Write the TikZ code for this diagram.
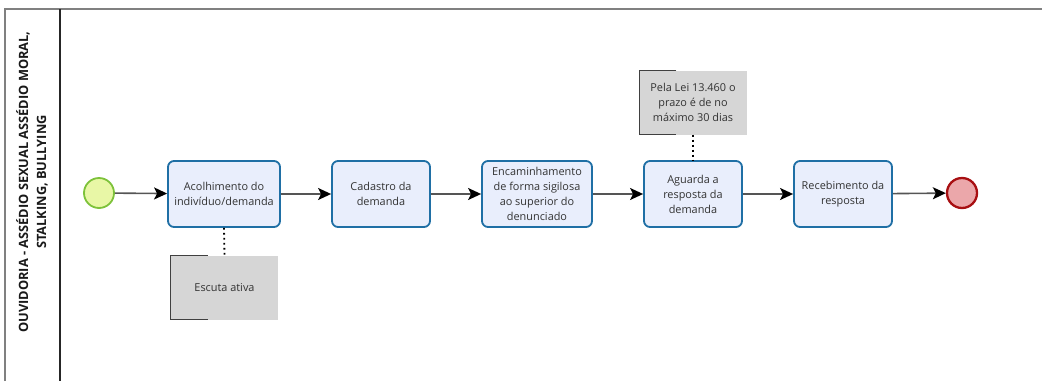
\documentclass[tikz,border=0pt]{standalone}
\usepackage{fontspec}
\setmainfont{Open Sans}
\usetikzlibrary{arrows.meta}
\definecolor{taskfill}{HTML}{E9EEFC}
\definecolor{taskdraw}{HTML}{1F6FA5}
\definecolor{startfill}{HTML}{E8F7A6}
\definecolor{startdraw}{HTML}{7DC23A}
\definecolor{endfill}{HTML}{EBA7AA}
\definecolor{enddraw}{HTML}{A80F12}
\definecolor{annfill}{HTML}{D6D6D6}
\definecolor{flowgray}{HTML}{555555}
\definecolor{txt}{HTML}{333333}
\tikzset{
  taskbox/.style={draw=taskdraw, fill=taskfill, line width=1.8pt, rounded corners=6pt,
    minimum width=#1, minimum height=66pt, inner sep=0pt, align=center,
    font=\fontsize{10.9}{15}\selectfont, text=txt},
  taskbox/.default=100pt,
  startev/.style={circle, draw=startdraw, fill=startfill, line width=1.8pt, minimum size=30pt, inner sep=0pt},
  endev/.style={circle, draw=enddraw, fill=endfill, line width=2.3pt, minimum size=30pt, inner sep=0pt},
  annbox/.style={fill=annfill, minimum width=107pt, minimum height=64pt, inner sep=0pt, align=center,
    font=\fontsize{10.9}{15}\selectfont, text=txt},
  flow/.style={draw=flowgray, line width=1.6pt, -{Stealth[length=13pt,width=12pt,inset=3pt,fill=black,black]}},
  assoc/.style={draw=black, line width=1.8pt, dash pattern=on 1.8pt off 3.2pt},
  bracket/.style={draw=black!75, line width=1.2pt},
}
\begin{document}
\begin{tikzpicture}[x=1pt,y=-1pt]
\useasboundingbox (0,0) rectangle (1042,381);
% pool / lane
\draw[gray, line width=1.3pt] (5,381) -- (5,9) -- (1042,9);
\draw[black!85, line width=1.3pt] (60,9) -- (60,381);
\node[rotate=90, align=center, font=\bfseries\fontsize{12.8}{18}\selectfont, text=black!90] (lanelabel) at (32,182)
  {OUVIDORIA - ASSÉDIO SEXUAL ASSÉDIO MORAL,\\STALKING, BULLYING};
% events and tasks
\node[startev] (start) at (99,193) {};
\node[taskbox=112pt] (t1) at (224,194) {Acolhimento do\\indivíduo/demanda};
\node[taskbox=98pt] (t2) at (381,194) {Cadastro da\\demanda};
\node[taskbox=110pt] (t3) at (537,194) {Encaminhamento\\de forma sigilosa\\ao superior do\\denunciado};
\node[taskbox=98pt] (t4) at (693,194) {Aguarda a\\resposta da\\demanda};
\node[taskbox=98pt] (t5) at (843,194) {Recebimento da\\resposta};
\node[endev] (end) at (962,193) {};
% annotations
\node[annbox] (a1) at (224.5,287.5) {Escuta ativa};
\node[annbox] (a2) at (693,102.5) {Pela Lei 13.460 o\\prazo é de no\\máximo 30 dias};
\draw[bracket] ([xshift=37pt]a1.north west) -- (a1.north west) -- (a1.south west) -- ([xshift=37pt]a1.south west);
\draw[bracket] ([xshift=37pt]a2.north west) -- (a2.north west) -- (a2.south west) -- ([xshift=37pt]a2.south west);
% flows
\draw[flow] (start) -- (t1);
\draw[flow] (t1) -- (t2);
\draw[flow] (t2) -- (t3);
\draw[flow] (t3) -- (t4);
\draw[flow] (t4) -- (t5);
\draw[flow] (t5) -- (end);
% associations
\draw[assoc] (t1.south) -- (a1.north);
\draw[assoc] (a2.south) -- (t4.north);
\end{tikzpicture}
\end{document}
